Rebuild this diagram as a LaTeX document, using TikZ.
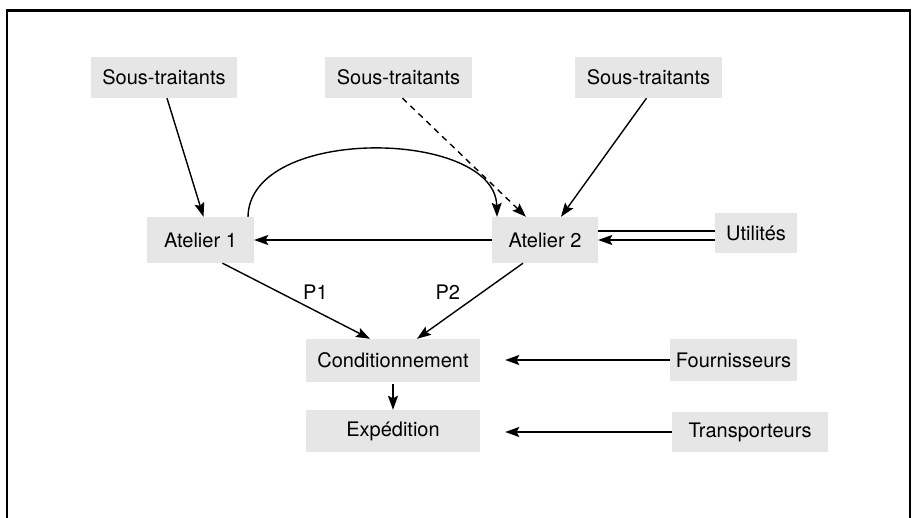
\documentclass[tikz,border=0pt]{standalone}
\usepackage{fontspec}
\setmainfont{TeX Gyre Heros}
\usetikzlibrary{arrows.meta,calc}
\definecolor{boxgray}{HTML}{E6E6E6}
\tikzset{
  block/.style={fill=boxgray,inner sep=0pt,font=\fontsize{20}{24}\selectfont,anchor=center},
  lbl/.style={font=\fontsize{20}{24}\selectfont,inner sep=0pt},
  flow/.style={line width=1.4pt,-{Stealth[length=14pt,width=10pt,inset=2.5pt]}},
  plain/.style={line width=1.4pt},
  frameline/.style={line width=2.6pt}
}
\begin{document}
\begin{tikzpicture}[x=1pt,y=-1pt]
\useasboundingbox (0,0) rectangle (912,518);
% open frame
\draw[frameline] (7,518) -- (7,10.5) -- (910,10.5) -- (910,518);

% blocks
\node[block,minimum width=146pt,minimum height=41pt] (st1) at (164,77.5) {Sous-traitants};
\node[block,minimum width=147pt,minimum height=41pt] (st2) at (398.5,77.5) {Sous-traitants};
\node[block,minimum width=147pt,minimum height=41pt] (st3) at (648.5,77.5) {Sous-traitants};
\node[block,minimum width=107pt,minimum height=46pt] (at1) at (200.5,240) {Atelier 1};
\node[block,minimum width=106pt,minimum height=46pt] (at2) at (545,240) {Atelier 2};
\node[block,minimum width=82pt,minimum height=40pt] (util) at (756,233) {Utilités};
\node[block,minimum width=174pt,minimum height=43pt] (cond) at (393,360.5) {Conditionnement};
\node[block,minimum width=127pt,minimum height=42pt] (four) at (733.5,360) {Fournisseurs};
\node[block,minimum width=174pt,minimum height=42pt] (exp) at (393,431) {Expédition};
\node[block,minimum width=156pt,minimum height=40pt] (trans) at (750,432) {Transporteurs};

% supplies into the workshops
\draw[flow] ([xshift=3pt]st1.south) -- ([xshift=3pt]at1.north);
\draw[flow,dashed,dash pattern=on 6pt off 5pt] ([xshift=4pt]st2.south) -- ([xshift=-19pt]at2.north);
\draw[flow] ([xshift=-2pt]st3.south) -- ([xshift=16pt]at2.north);

% exchanges between the workshops
\draw[flow] ([xshift=47.5pt]at1.north) .. controls ($(at1.north)+(49pt,92pt)$) and ($(at2.north)+(-50pt,88pt)$) .. ([xshift=-48pt]at2.north);
\draw[flow] (at2.west) -- (at1.east);

% utilities (double line)
\draw[plain] ($(util.west|-at2.east)+(0,9pt)$) -- ($(at2.east)+(0,9pt)$);
\draw[flow] (util.west|-at2.east) -- (at2.east);

% products to packaging
\draw[flow] ([xshift=22pt]at1.south) -- node[lbl,pos=0.63,above=11pt] {P1} ([xshift=-23pt]cond.north);
\draw[flow] ([xshift=-22pt]at2.south) -- node[lbl,pos=0.71,above=17pt] {P2} ([xshift=24pt]cond.north);

% packaging, shipping and outside partners
\draw[flow] ([yshift=-2pt]cond.south) -- (exp.north);
\draw[flow,shorten >=25pt] (four.west) -- (four.west-|cond.east);
\draw[flow,shorten >=25pt] (trans.west) -- (trans.west-|exp.east);
\end{tikzpicture}
\end{document}
